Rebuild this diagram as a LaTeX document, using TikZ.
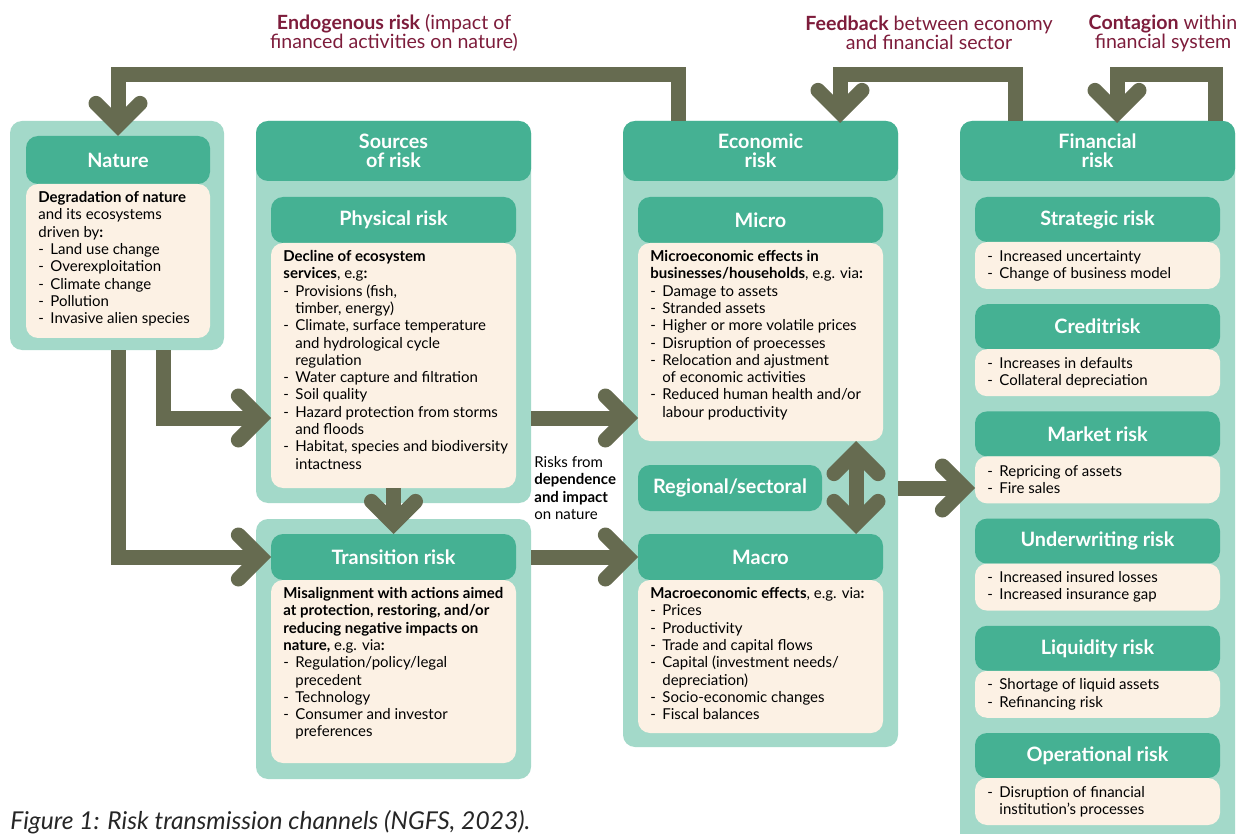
\documentclass[tikz,border=0pt]{standalone}
\usepackage{fontspec}
\setmainfont{Lato}
\usepackage{tikz}
\usetikzlibrary{arrows.meta, calc}

\definecolor{paleteal}{RGB}{163,217,201}
\definecolor{darkteal}{RGB}{69,177,147}
\definecolor{cream}{RGB}{252,241,228}
\definecolor{olivegrey}{RGB}{102,107,80}
\definecolor{wine}{RGB}{125,28,59}

\newcommand{\dsh}{\makebox[6pt][l]{-}}
\newcommand{\ind}{\hspace*{6pt}}
\newcommand{\bodyfont}{\fontsize{7.5}{8.65}\selectfont}
\newcommand{\headfont}{\fontsize{9.9}{9.5}\selectfont\bfseries}

\begin{document}
\begin{tikzpicture}[x=0.5pt, y=-0.5pt,
  px/.style 2 args={minimum width=#1*0.5pt, minimum height=#2*0.5pt},
  outerbox/.style={fill=paleteal, rounded corners=6pt, inner sep=0pt, outer sep=0pt, anchor=north west},
  headbox/.style={fill=darkteal, rounded corners=6pt, inner sep=0pt, outer sep=0pt, anchor=north west,
                  text=white, font=\headfont, align=center},
  bodybox/.style={fill=cream, rounded corners=6pt, inner sep=0pt, outer sep=0pt, anchor=north west},
  bodytext/.style={anchor=north west, align=left, inner sep=0pt, font=\bodyfont, text=black},
  title/.style={align=center, inner sep=0pt, text=wine, font=\fontsize{9.8}{9.5}\selectfont},
  flow/.style={draw=olivegrey, line width=7.5pt, line join=miter,
               -{Straight Barb[length=11pt, width=22pt, line cap=round, line join=miter]}},
  flowboth/.style={draw=olivegrey, line width=7.5pt, line join=miter,
               {Straight Barb[length=11pt, width=22pt, line cap=round, line join=miter]}-{Straight Barb[length=11pt, width=22pt, line cap=round, line join=miter]}}]
\clip (0,0) rectangle (1237,834);

% titles of the feedback loops
\node[title] (endo) at (394,33) {\textbf{Endogenous risk} (impact of\\financed activities on nature)};
\node[title] (feed) at (929,33) {\textbf{Feedback} between economy\\and financial sector};
\node[title] (cont) at (1163,33) {\textbf{Contagion} within\\financial system};

% nature
\node[outerbox, px={214}{229}] (nature) at (10,121) {};
\node[headbox, px={184}{48}] (naturehead) at (26,136) {Nature};
\node[bodybox, px={184}{154}] (naturebody) at (26,184) {};
\node[bodytext] (naturetxt) at ($(naturebody.north west)+(12,7)$)
  {\textbf{Degradation of nature}\\and its ecosystems\\driven by\textbf{:}\\
   \dsh Land use change\\\dsh Overexploitation\\\dsh Climate change\\\dsh Pollution\\\dsh Invasive alien species};

% sources of risk
\node[outerbox, px={275}{382}] (sources) at (256,121) {};
\node[headbox, px={275}{60}] (sourceshead) at (256,121) {Sources\\of risk};
\node[headbox, px={245}{46}] (physhead) at (271,197) {Physical risk};
\node[bodybox, px={245}{245}] (physbody) at (271,243) {};
\node[bodytext] (phystxt) at ($(physbody.north west)+(12,7)$)
  {\textbf{Decline of ecosystem}\\\textbf{services}, e.g\textbf{:}\\
   \dsh Provisions (fish,\\\ind timber, energy)\\
   \dsh Climate, surface temperature\\\ind and hydrological cycle\\\ind regulation\\
   \dsh Water capture and filtration\\\dsh Soil quality\\
   \dsh Hazard protection from storms\\\ind and floods\\
   \dsh Habitat, species and biodiversity\\\ind intactness};

\node[outerbox, px={275}{260}] (transition) at (256,519) {};
\node[headbox, px={245}{46}] (transhead) at (271,534) {Transition risk};
\node[bodybox, px={245}{183}] (transbody) at (271,580) {};
\node[bodytext] (transtxt) at ($(transbody.north west)+(12,7)$)
  {\textbf{Misalignment with actions aimed}\\\textbf{at protection, restoring, and/or}\\
   \textbf{reducing negative impacts on}\\\textbf{nature,} e.g. via\textbf{:}\\
   \dsh Regulation/policy/legal\\\ind precedent\\\dsh Technology\\
   \dsh Consumer and investor\\\ind preferences};

\node[bodytext, anchor=west] (dep) at (534,488)
  {Risks from\\\textbf{dependence}\\\textbf{and impact}\\on nature};

% economic risk
\node[outerbox, px={275}{626}] (econ) at (623,121) {};
\node[headbox, px={275}{60}] (econhead) at (623,121) {Economic\\risk};
\node[headbox, px={245}{46}] (microhead) at (638,197) {Micro};
\node[bodybox, px={245}{198}] (microbody) at (638,243) {};
\node[bodytext] (microtxt) at ($(microbody.north west)+(12,7)$)
  {\textbf{Microeconomic effects in}\\\textbf{businesses/households}, e.g. via\textbf{:}\\
   \dsh Damage to assets\\\dsh Stranded assets\\\dsh Higher or more volatile prices\\
   \dsh Disruption of proecesses\\\dsh Relocation and ajustment\\\ind of economic activities\\
   \dsh Reduced human health and/or\\\ind labour productivity};
\node[headbox, px={184}{46}] (regional) at (638,465) {Regional/sectoral};
\node[headbox, px={245}{46}] (macrohead) at (638,534) {Macro};
\node[bodybox, px={245}{153}] (macrobody) at (638,580) {};
\node[bodytext] (macrotxt) at ($(macrobody.north west)+(12,7)$)
  {\textbf{Macroeconomic effects}, e.g. via\textbf{:}\\
   \dsh Prices\\\dsh Productivity\\\dsh Trade and capital flows\\
   \dsh Capital (investment needs/\\\ind depreciation)\\
   \dsh Socio-economic changes\\\dsh Fiscal balances};

% financial risk
\node[outerbox, px={275}{740}] (fin) at (960,121) {};
\node[headbox, px={275}{60}] (finhead) at (960,121) {Financial\\risk};
\foreach \nm/\ttl/\txt [count=\i from 0] in
  {strat/Strategic risk/{\dsh Increased uncertainty\\\dsh Change of business model},
   credit/Creditrisk/{\dsh Increases in defaults\\\dsh Collateral depreciation},
   market/Market risk/{\dsh Repricing of assets\\\dsh Fire sales},
   under/Underwriting risk/{\dsh Increased insured losses\\\dsh Increased insurance gap},
   liquid/Liquidity risk/{\dsh Shortage of liquid assets\\\dsh Refinancing risk},
   oper/Operational risk/{\dsh Disruption of financial\\\ind institution’s processes}}
{
  \pgfmathsetmacro{\yy}{197+107.2*\i}
  \node[headbox, px={245}{45}] (\nm head) at (975,\yy) {\ttl};
  \node[bodybox, px={245}{47}] (\nm body) at (975,\yy+45) {};
  \node[bodytext, anchor=west] (\nm txt) at ($(\nm body.west)+(12,0)$) {\txt};
}

% connectors
\coordinate (topline) at (0,75);
\coordinate (physin) at (0,418);
\coordinate (endostart) at ($(econhead.north west)+(55,0)$);
\coordinate (fbstart) at ($(finhead.north west)+(55,0)$);
\coordinate (fbend) at ($(econhead.north west)+(217,2)$);
\coordinate (cstart) at ($(finhead.north west)+(255,0)$);
\coordinate (cend) at ($(finhead.north west)+(157,2)$);
\coordinate (natA) at ($(nature.south west)+(153,0)$);
\coordinate (natB) at ($(nature.south west)+(108,0)$);
\coordinate (updn) at ($(microbody.south west)+(218,0)$);

\draw[flow] (endostart) |- (naturehead.north |- topline) -- (naturehead.north);
\draw[flow] (fbstart) |- (fbend |- topline) -- (fbend);
\draw[flow] (cstart) |- (cend |- topline) -- (cend);
\draw[flow] (natA) |- (physbody.west |- physin);
\draw[flow] (natB) |- (transhead.west);
\draw[flow] (physbody.south) -- (transhead.north);
\draw[flow] (sources.east |- physin) -- (microbody.west |- physin);
\draw[flow] (transition.east |- transhead.west) -- (macrohead.west);
\draw[flowboth] (updn) -- (updn |- macrohead.north);
\draw[flow] (econ.east |- regional.east) -- (marketbody.west |- regional.east);

\node[anchor=west, inner sep=0pt, font=\fontsize{12.3}{14}\selectfont\itshape, text=black!85] (caption)
  at (10,822) {Figure 1: Risk transmission channels (NGFS, 2023).};
\end{tikzpicture}
\end{document}
